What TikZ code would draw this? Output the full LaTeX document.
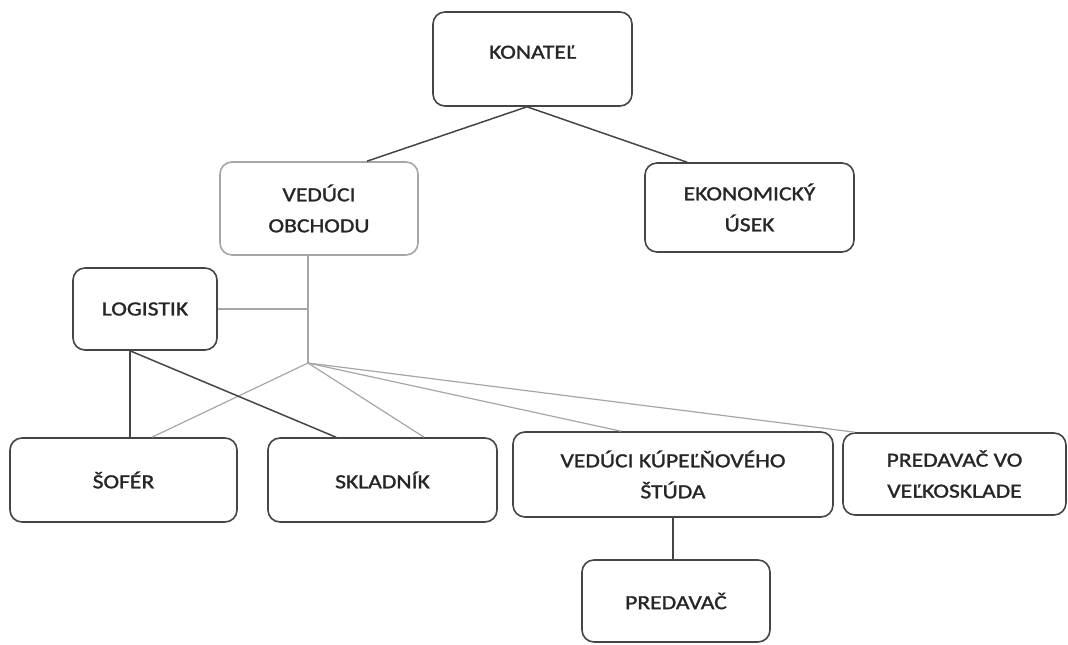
\documentclass[tikz,border=0pt]{standalone}
\usepackage{fontspec}
\setmainfont{Carlito}[FakeStretch=1.18, FakeBold=1.4]
\usepackage{xcolor}
\usetikzlibrary{calc}

\definecolor{boxgray}{HTML}{454545}
\definecolor{palegray}{HTML}{A6A6A6}
\definecolor{inkgray}{HTML}{262626}

\begin{document}
\begin{tikzpicture}[x=1pt, y=-1pt, font=\fontsize{20}{31}\selectfont,
  unit/.style={draw=boxgray, line width=1.6pt, rounded corners=12pt, align=center, inner sep=0pt, text=inkgray},
  tie/.style={draw=boxgray, line width=1.5pt},
  paletie/.style={draw=palegray, line width=1.2pt}]
\useasboundingbox (0,0) rectangle (1068,645);

% top levels
\node[unit, minimum width=199, minimum height=94, text depth=14pt] (konatel) at (532.5,59) {KONATEĽ};
\node[unit, draw=palegray, minimum width=198, minimum height=93] (obchod) at (319,208.5) {VEDÚCI\\OBCHODU};
\node[unit, minimum width=209, minimum height=89] (ekonom) at (749.5,207.5) {EKONOMICKÝ\\ÚSEK};
\node[unit, minimum width=144, minimum height=82] (logistik) at (145,309) {LOGISTIK};

% bottom row
\node[unit, minimum width=227, minimum height=84] (sofer) at (123.5,480) {ŠOFÉR};
\node[unit, minimum width=229, minimum height=84] (skladnik) at (382.5,480) {SKLADNÍK};
\node[unit, minimum width=320, minimum height=85] (kupelna) at (673,474.5) {VEDÚCI KÚPEĽŇOVÉHO\\ŠTÚDA};
\node[unit, minimum width=223, minimum height=82] (velkosklad) at (954.5,474) {PREDAVAČ VO\\VEĽKOSKLADE};
\node[unit, minimum width=188, minimum height=82] (predavac) at (676,601) {PREDAVAČ};

\coordinate (hub) at (308,363);

% connectors
\draw[tie] ([xshift=-5.5pt]konatel.south) -- ([xshift=48pt]obchod.north);
\draw[tie] ([xshift=-5.5pt]konatel.south) -- ([xshift=-62.5pt]ekonom.north);
\draw[paletie] ([xshift=-11pt]obchod.south) -- (hub);
\draw[paletie] (logistik.east) -- (logistik.east -| hub);
\foreach \dst/\dx in {sofer/28.5, skladnik/41.5, kupelna/-52, velkosklad/-99.5}
  \draw[paletie] (hub) -- ([xshift=\dx pt]\dst.north);
\draw[tie] ([xshift=-15pt]logistik.south) -- ([xshift=6.5pt]sofer.north);
\draw[tie] ([xshift=-15pt]logistik.south) -- ([xshift=-46.5pt]skladnik.north);
\draw[tie] (kupelna.south) -- (kupelna.south |- predavac.north);
\end{tikzpicture}
\end{document}
